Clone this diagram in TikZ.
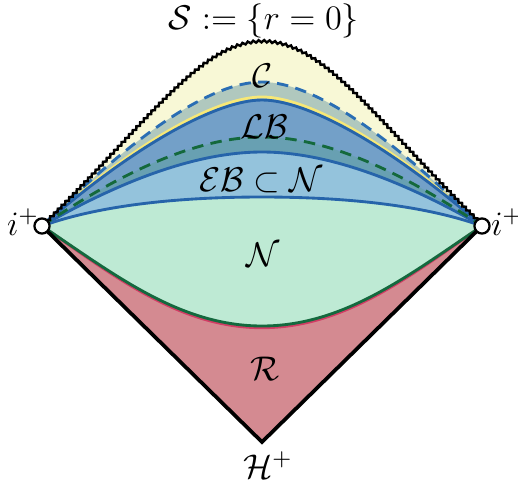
\documentclass[tikz,border=0pt]{standalone}
\usepackage{xcolor}
\usetikzlibrary{
    decorations.pathmorphing
}

\definecolor{cfill}{RGB}{248,248,214}
\definecolor{cline}{RGB}{247,232,118}
\definecolor{dashfill}{RGB}{176,200,190}
\definecolor{dashblue}{RGB}{42,110,180}
\definecolor{lbfill}{RGB}{115,160,200}
\definecolor{blueline}{RGB}{38,100,170}
\definecolor{tealfill}{RGB}{104,160,178}
\definecolor{dashgreen}{RGB}{20,105,60}
\definecolor{ebfill}{RGB}{148,195,220}
\definecolor{nfill}{RGB}{190,234,212}
\definecolor{nline}{RGB}{20,105,62}
\definecolor{rfill}{RGB}{212,138,145}
\definecolor{rline}{RGB}{210,60,100}

% curves from i^+ to i^+ (pixel-like units)
\newcommand{\singcurve}{(iL) .. controls (150,120) and (200,42) .. (262,42) .. controls (324,42) and (374,120) .. (iR)}
\newcommand{\dashcurve}{(iL) .. controls (135,135) and (210,82) .. (262,82) .. controls (314,82) and (389,135) .. (iR)}
\newcommand{\ccurve}{(iL) .. controls (130,146) and (215,97) .. (262,97) .. controls (309,97) and (394,146) .. (iR)}
\newcommand{\lbcurve}{(iL) .. controls (130,149) and (215,100) .. (262,100) .. controls (309,100) and (394,149) .. (iR)}
\newcommand{\gdcurve}{(iL) .. controls (110,180) and (190,137) .. (262,137) .. controls (334,137) and (414,180) .. (iR)}
\newcommand{\ebcurve}{(iL) .. controls (110,187) and (190,152) .. (262,152) .. controls (334,152) and (414,187) .. (iR)}
\newcommand{\nucurve}{(iL) .. controls (100,205) and (180,197) .. (262,197) .. controls (344,197) and (424,205) .. (iR)}
\newcommand{\ncurve}{(iL) .. controls (115,275) and (180,326) .. (262,326) .. controls (344,326) and (409,275) .. (iR)}

\begin{document}
\begin{tikzpicture}[
    x=0.35pt, y=-0.35pt,
    font=\fontsize{11.5}{14}\selectfont,
    bdry/.style={line width=1pt},
    dashbdry/.style={line width=1pt, dash pattern=on 4pt off 2.6pt},
    horizon/.style={line width=1.3pt, draw=black, line join=miter},
    singline/.style={
        line width=0.85pt,
        draw=black,
        decorate,
        decoration={snake, segment length=1.9pt, amplitude=0.4pt}
    },
    endpt/.style={
        circle,
        draw=black,
        fill=white,
        line width=0.8pt,
        inner sep=0pt,
        minimum size=5.3pt
    },
    lbl/.style={inner sep=0pt}
]

\useasboundingbox (0,0) rectangle (518,487);

% =========================================================
% Corner points
% =========================================================
\coordinate (iL) at (42,226);
\coordinate (iR) at (482,226);
\coordinate (Hp) at (262,442);

% =========================================================
% Regions, from the singularity downward
% =========================================================
\fill[cfill] \singcurve -- cycle;

\fill[dashfill] \dashcurve -- cycle;
\draw[cline, bdry] \ccurve;

\fill[lbfill] \lbcurve -- cycle;
\draw[blueline, bdry] \lbcurve;

\fill[tealfill] \gdcurve -- cycle;

\fill[ebfill] \ebcurve -- cycle;
\draw[blueline, bdry] \ebcurve;

\fill[nfill] \nucurve -- (Hp) -- cycle;
\draw[blueline, bdry] \nucurve;

\fill[rfill] \ncurve -- (Hp) -- cycle;
\draw[rline, bdry, yshift=-0.6pt] \ncurve;
\draw[nline, bdry] \ncurve;

% dashed boundaries
\draw[dashblue, dashbdry] \dashcurve;
\draw[dashgreen, dashbdry] \gdcurve;

% =========================================================
% Horizon and singularity
% =========================================================
\draw[horizon] (iL) -- (Hp) -- (iR);
\draw[singline] \singcurve;

\node[endpt] (ptL) at (iL) {};
\node[endpt] (ptR) at (iR) {};

% =========================================================
% Labels
% =========================================================
\node[lbl] (lblS) at (264,21) {$\mathcal{S} := \{r=0\}$};
\node[lbl] (lblC) at (263,76) {$\mathcal{C}$};
\node[lbl] (lblLB) at (264,127) {$\mathcal{LB}$};
\node[lbl] (lblEB) at (261,180) {$\mathcal{EB}\subset\mathcal{N}$};
\node[lbl] (lblN) at (263,255) {$\mathcal{N}$};
\node[lbl] (lblR) at (265,369) {$\mathcal{R}$};
\node[lbl] (lblH) at (268,465) {$\mathcal{H}^+$};
\node[lbl] (lblL) at (23,222) {$i^+$};
\node[lbl] (lblRt) at (507,222) {$i^+$};

\end{tikzpicture}
\end{document}
